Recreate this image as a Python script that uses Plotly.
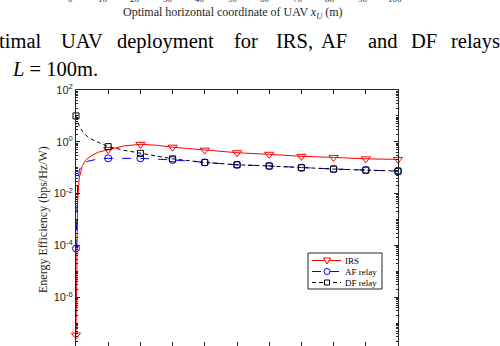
import plotly.graph_objects as go

# energy efficiency (bps/Hz/W) vs UAV horizontal coordinate (m)
x_irs = [0, 0.25, 0.5, 1, 2, 3, 5, 7, 10, 15, 20, 25, 30, 40, 50, 60, 70, 80, 90, 100]
ee_irs = [3.5e-8, 1e-4, 5e-3, 0.04, 0.12, 0.2, 0.3, 0.4, 0.5, 0.7, 0.8, 0.74, 0.62,
          0.48, 0.38, 0.33, 0.275, 0.25, 0.22, 0.21]

x_af = [0, 0.25, 0.5, 1, 2, 3, 5, 7, 10, 15, 20, 30, 40, 50, 60, 70, 80, 90, 100]
ee_af = [7.7e-5, 3e-3, 0.02, 0.08, 0.14, 0.17, 0.2, 0.22, 0.23, 0.235, 0.23, 0.2,
         0.16, 0.13, 0.117, 0.10, 0.089, 0.081, 0.074]

x_df = [0, 1, 2, 4, 7, 10, 15, 20, 25, 30, 40, 50, 60, 70, 80, 90, 100]
ee_df = [10, 4, 2.5, 1.4, 0.95, 0.65, 0.47, 0.36, 0.28, 0.22, 0.16, 0.13, 0.117,
         0.10, 0.089, 0.081, 0.074]

ytick_vals = [1e-8, 1e-6, 1e-4, 1e-2, 1e0, 1e2]
ytick_text = ["10<sup>-8</sup>", "10<sup>-6</sup>", "10<sup>-4</sup>",
              "10<sup>-2</sup>", "10<sup>0</sup>", "10<sup>2</sup>"]
top_tick_labels = ["0", "10", "20", "30", "40", "50", "60", "70", "80", "90", "100"]

series = [
    ("IRS", x_irs, ee_irs, "red", "solid", "triangle-down-open", 8),
    ("AF relay", x_af, ee_af, "blue", "dash", "circle-open", 7),
    ("DF relay", x_df, ee_df, "black", "4px,3px", "square-open", 6),
]

W, H = 500, 346
L, R, T, B = 76, 102, 90, 0
pw, ph = W - L - R, H - T - B


def px(x):
    return (x - L) / pw


def py(y):
    return (H - B - y) / ph


fig = go.Figure()
for name, xs, ys, col, dash, sym, ms in series:
    fig.add_trace(go.Scatter(x=xs, y=ys, mode="lines", name=name, showlegend=False,
                             line=dict(color=col, width=1, dash=dash)))
    mx = [a for a in xs if a % 10 == 0]
    my = [b for a, b in zip(xs, ys) if a % 10 == 0]
    fig.add_trace(go.Scatter(x=mx, y=my, mode="markers", showlegend=False, cliponaxis=False,
                             marker=dict(symbol=sym, size=ms, color=col,
                                         line=dict(color=col, width=1))))

minor_vals = [k * 10.0 ** d for d in range(-8, 2) for k in range(2, 10)] + \
             [10.0 ** d for d in (-7, -5, -3, -1, 1)]

fig.update_xaxes(range=[0, 100], tickvals=list(range(0, 101, 10)), showticklabels=False,
                 ticks="inside", ticklen=4, tickcolor="#262626", showline=True,
                 linecolor="#262626", linewidth=1, mirror="ticks", showgrid=False,
                 zeroline=False)
fig.update_yaxes(type="log", range=[-7.88, 2], tickvals=ytick_vals, ticktext=ytick_text,
                 ticks="inside", ticklen=4, tickcolor="#262626", showline=True,
                 linecolor="#262626", linewidth=1, mirror="ticks", showgrid=False,
                 zeroline=False, tickfont=dict(family="Liberation Sans", size=11, color="#262626"),
                 minor=dict(tickvals=minor_vals, ticks="inside", ticklen=2,
                            tickcolor="#262626", showgrid=False))

ann = []
# cut-off labels of the figure above
for i, t in enumerate(top_tick_labels):
    ann.append(dict(x=px(70 + i * 32.5), y=py(-1.5), text=t, showarrow=False,
                    xref="paper", yref="paper", xanchor="center", yanchor="middle",
                    font=dict(size=9, family="Liberation Serif", color="#262626")))
ann.append(dict(x=px(233), y=py(12.5), text="Optimal horizontal coordinate of UAV <i>x</i><sub><i>U</i></sub> (m)",
                showarrow=False, xref="paper", yref="paper", xanchor="center", yanchor="middle",
                font=dict(size=12, family="Liberation Serif", color="#262626")))

# caption
caption_words = [("Optimal", 43, "right"), ("UAV", 59, "left"), ("deployment", 115, "left"),
                 ("for", 232, "left"), ("IRS,", 274, "left"), ("AF", 319, "left"),
                 ("and", 366, "left"), ("DF", 409, "left"), ("relays", 449, "left")]
for w, xx, anc in caption_words:
    ann.append(dict(x=px(xx), y=py(41), text=w, showarrow=False, xref="paper", yref="paper",
                    xanchor=anc, yanchor="middle",
                    font=dict(size=20.5, family="Liberation Serif", color="black")))
ann.append(dict(x=px(100), y=py(69), text="<i>L</i> = 100m.", showarrow=False,
                xref="paper", yref="paper", xanchor="right", yanchor="middle",
                font=dict(size=20.5, family="Liberation Serif", color="black")))

# y label
ann.append(dict(x=px(43), y=py(220), text="Energy Efficiency (bps/Hz/W)", textangle=-90,
                showarrow=False, xref="paper", yref="paper", xanchor="center", yanchor="middle",
                font=dict(size=12, family="Liberation Serif", color="#262626")))

# legend box drawn by hand (compact MATLAB style)
shapes = [dict(type="rect", xref="paper", yref="paper", x0=px(308), x1=px(382),
               y0=py(253), y1=py(289), line=dict(color="#262626", width=1),
               fillcolor="white", layer="above")]
rows = [260.5, 271.5, 282.5]
for (name, xs, ys, col, dash, sym, ms), ry in zip(series, rows):
    shapes.append(dict(type="line", xref="paper", yref="paper", x0=px(312), x1=px(341),
                       y0=py(ry), y1=py(ry), line=dict(color=col, width=1, dash=dash),
                       layer="above"))
    r = 3
    if sym.startswith("triangle"):
        path = "M %f %f L %f %f L %f %f Z" % (px(327 - 3.5), py(ry - 2.5), px(327 + 3.5),
                                              py(ry - 2.5), px(327), py(ry + 3.5))
        shapes.append(dict(type="path", xref="paper", yref="paper", path=path,
                           line=dict(color=col, width=1), fillcolor="white", layer="above"))
    elif sym.startswith("circle"):
        shapes.append(dict(type="circle", xref="paper", yref="paper", x0=px(327 - r),
                           x1=px(327 + r), y0=py(ry - r), y1=py(ry + r),
                           line=dict(color=col, width=1), fillcolor="white", layer="above"))
    else:
        shapes.append(dict(type="rect", xref="paper", yref="paper", x0=px(327 - 2.5),
                           x1=px(327 + 2.5), y0=py(ry - 2.5), y1=py(ry + 2.5),
                           line=dict(color=col, width=1), fillcolor="white", layer="above"))
    ann.append(dict(x=px(343), y=py(ry), text=name, showarrow=False, xref="paper",
                    yref="paper", xanchor="left", yanchor="middle",
                    font=dict(size=9, family="Liberation Serif", color="black")))

fig.update_layout(width=W, height=H, margin=dict(l=L, r=R, t=T, b=B),
                  paper_bgcolor="white", plot_bgcolor="white", showlegend=False,
                  font=dict(family="Liberation Serif", color="black"),
                  annotations=ann, shapes=shapes)

# the page body has a default 8px margin; drop it so the figure sits at the corner
fig.write_html("out.html", config={"displayModeBar": False},
               post_script="document.body.style.margin='0';")
